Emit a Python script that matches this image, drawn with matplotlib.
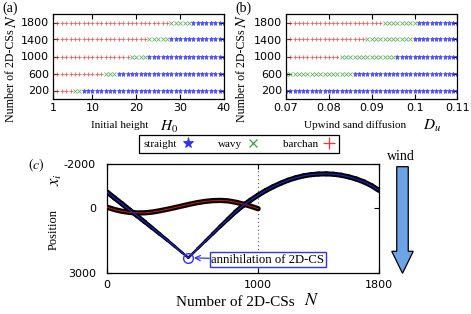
import numpy as np
import matplotlib
matplotlib.use('Agg')
import matplotlib.pyplot as plt
from matplotlib.lines import Line2D
from matplotlib.patches import FancyArrow
from matplotlib.collections import LineCollection

plt.rcParams['font.family'] = 'DejaVu Sans'
plt.rcParams['mathtext.fontset'] = 'stix'
plt.rcParams['axes.unicode_minus'] = False

SERIF = 'Liberation Serif'

# (a) phase diagram against initial height H0
rows_N = [200, 600, 1000, 1400, 1800]
H0 = np.arange(1, 41)
a_wavy_from = [6, 13, 19, 23, 28]
a_straight_from = [8, 16, 23, 28, 33]

# (b) phase diagram against upwind sand diffusion Du
Du = np.round(np.arange(0.070, 0.1105, 0.001), 3)
b_wavy_from = [0.070, 0.070, 0.083, 0.089, 0.093]
b_straight_from = [0.070, 0.086, 0.096, 0.100, 0.101]

# (c) crest positions x_i against number of 2D-CSs
red_N = [0, 50, 100, 150, 200, 250, 300, 350, 400, 450, 500,
         550, 600, 650, 700, 750, 800, 850, 900, 950, 1000]
red_x = [-20, 90, 170, 220, 245, 240, 205, 145, 75, 0, -80,
         -160, -230, -285, -320, -330, -310, -250, -165, -65, 50]
blue_N = [0, 50, 100, 150, 200, 250, 300, 350, 400, 450, 500, 538,
          600, 650, 700, 750, 800, 850, 900, 950, 1000, 1050, 1100, 1150, 1200,
          1250, 1300, 1350, 1400, 1450, 1500, 1550, 1600, 1650, 1700, 1750, 1800]
blue_x = [-720, -440, -170, 110, 380, 660, 940, 1220, 1500, 1790, 2080, 2300,
          1880, 1540, 1200, 860, 530, 200, -90, -340, -570, -780, -960, -1120, -1260,
          -1370, -1455, -1510, -1540, -1548, -1530, -1485, -1410, -1310, -1180, -1010, -790]
annih_N, annih_x = 538, 2300

c_red, c_green, c_blue = '#ff3030', '#3fa03f', '#3030ff'

W, H = 471, 314
fig = plt.figure(figsize=(W / 100, H / 100), dpi=100)


def px(x0, y0, x1, y1):
    # pixel box (top-left origin) -> figure fraction rect
    return [x0 / W, 1 - y1 / H, (x1 - x0) / W, (y1 - y0) / H]


def style(ax):
    ax.tick_params(direction='in', top=True, right=True, length=3.5, width=0.8,
                   labelsize=8, pad=3)
    for s in ax.spines.values():
        s.set_linewidth(0.9)


def phase(ax, xs, wavy_from, straight_from):
    for n, w, s in zip(rows_N, wavy_from, straight_from):
        red = xs[xs < w - 1e-9]
        green = xs[(xs >= w - 1e-9) & (xs < s - 1e-9)]
        blue = xs[xs >= s - 1e-9]
        ax.plot(red, np.full(len(red), n), '+', color=c_red, ms=3.2, mew=0.6, alpha=0.8)
        ax.plot(green, np.full(len(green), n), 'x', color=c_green, ms=2.6, mew=0.6, alpha=0.8)
        ax.plot(blue, np.full(len(blue), n), '*', color=c_blue, ms=3.6, mew=0.5, alpha=0.8)
    ax.set_ylim(0, 2000)
    ax.set_yticks(rows_N)
    style(ax)


# panel (a)
axa = fig.add_axes(px(53, 14, 224, 99))
phase(axa, H0.astype(float), a_wavy_from, a_straight_from)
axa.set_xlim(1, 40)
axa.set_xticks([1, 10, 20, 30, 40])

# panel (b)
axb = fig.add_axes(px(286, 14, 457.5, 99))
phase(axb, Du, b_wavy_from, b_straight_from)
axb.set_xlim(0.07, 0.11)
axb.set_xticks([0.07, 0.08, 0.09, 0.10, 0.11])
axb.set_xticklabels(['0.07', '0.08', '0.09', '0.1', '0.11'])

# panel (c)
axc = fig.add_axes(px(107, 164, 379, 273))
axc.axvline(1000, ls=(0, (1, 2.5)), color='#555555', lw=0.8, zorder=1)
axc.plot(red_N, red_x, color='black', lw=3.8, solid_capstyle='round', zorder=2)
# dark band around the blue track, narrowing towards the annihilation point
bN, bx = np.array(blue_N, float), np.array(blue_x, float)
segs = np.stack([np.column_stack([bN[:-1], bx[:-1]]),
                 np.column_stack([bN[1:], bx[1:]])], axis=1)
mid = 0.5 * (bN[:-1] + bN[1:])
widths = 1.6 + 2.1 * np.clip(np.abs(mid - annih_N) / 380, 0, 1)
axc.add_collection(LineCollection(segs, colors='black', linewidths=widths,
                                  capstyle='round', joinstyle='round', zorder=2))
axc.plot(red_N, red_x, color='#d01010', lw=0.8, zorder=3)
axc.plot(blue_N, blue_x, color='#2020c0', lw=0.9, zorder=3)
axc.plot([annih_N], [annih_x], 'o', ms=7, mfc='none', mec=c_blue, mew=1.0, zorder=5)
axc.annotate('annihilation of 2D-CS', xy=(annih_N, annih_x), xytext=(690, 2400),
             ha='left', va='center', fontsize=9.2, family=SERIF,
             arrowprops=dict(arrowstyle='->', color=c_blue, lw=0.9, shrinkA=0, shrinkB=4),
             bbox=dict(boxstyle='square,pad=0.12', fc='white', ec=c_blue, lw=1.0),
             zorder=6)
axc.set_xlim(0, 1800)
axc.set_ylim(3000, -2000)
axc.set_xticks([0, 1000, 1800])
axc.set_yticks([-2000, 0, 3000])
style(axc)
axc.tick_params(axis='x', pad=5)
axc.tick_params(axis='y', pad=8)

# axis labels (text and math parts set separately, as in the source figure)
lab = dict(family=SERIF, fontsize=8)
fig.text(120 / W, 1 - 125 / H, 'Initial height', ha='center', va='center', **lab)
fig.text(169 / W, 1 - 127 / H, '$H_0$', ha='center', va='center', fontsize=11)
fig.text(355 / W, 1 - 125 / H, 'Upwind sand diffusion', ha='center', va='center', **lab)
fig.text(432 / W, 1 - 126 / H, '$D_u$', ha='center', va='center', fontsize=11)
fig.text(235 / W, 1 - 302 / H, 'Number of 2D-CSs', ha='center', va='center', fontsize=11, family=SERIF)
fig.text(312 / W, 1 - 300 / H, '$N$', ha='center', va='center', fontsize=13)
for x0 in (11, 242):
    fig.text(x0 / W, 1 - 76 / H, 'Number of 2D-CSs', ha='center', va='center',
             rotation=90, family=SERIF, fontsize=8.6)
    fig.text(x0 / W, 1 - 21 / H, '$N$', ha='center', va='center', rotation=90, fontsize=11.5)
fig.text(54 / W, 1 - 230 / H, 'Position', ha='center', va='center', rotation=90,
         fontsize=9, family=SERIF)
fig.text(55 / W, 1 - 180 / H, '$x_i$', ha='center', va='center', rotation=90, fontsize=12)

fig.text(10 / W, 1 - 8 / H, '(a)', ha='center', va='center', fontsize=10, family=SERIF)
fig.text(243 / W, 1 - 8 / H, '(b)', ha='center', va='center', fontsize=10, family=SERIF)
fig.text(36 / W, 1 - 165 / H, '$(c)$', ha='center', va='center', fontsize=10)

# legend
handles = [Line2D([], [], ls='none', marker='*', color=c_blue, ms=8, mew=0.6),
           Line2D([], [], ls='none', marker='x', color=c_green, ms=6, mew=0.9),
           Line2D([], [], ls='none', marker='+', color=c_red, ms=8, mew=0.9)]
leg = fig.legend(handles, ['straight', 'wavy', 'barchan'], ncol=3, markerfirst=False,
                 loc='center', bbox_to_anchor=(239 / W, 1 - 144 / H),
                 prop=dict(family=SERIF, size=8), frameon=True, fancybox=False,
                 edgecolor='black', framealpha=1, borderpad=0.35,
                 handlelength=1.0, handletextpad=0.5, columnspacing=2.2)
leg.get_frame().set_linewidth(0.9)

# wind arrow
fig.text(401 / W, 1 - 156 / H, 'wind', ha='center', va='center', fontsize=10, family=SERIF)
arrow = FancyArrow(4.025, 1.473, 0, -1.066, width=0.115, head_width=0.215,
                   head_length=0.22, length_includes_head=True,
                   fc='#6ea3e6', ec='black', lw=0.9, transform=fig.dpi_scale_trans)
fig.patches.append(arrow)

fig.savefig('out.png', dpi=100)
